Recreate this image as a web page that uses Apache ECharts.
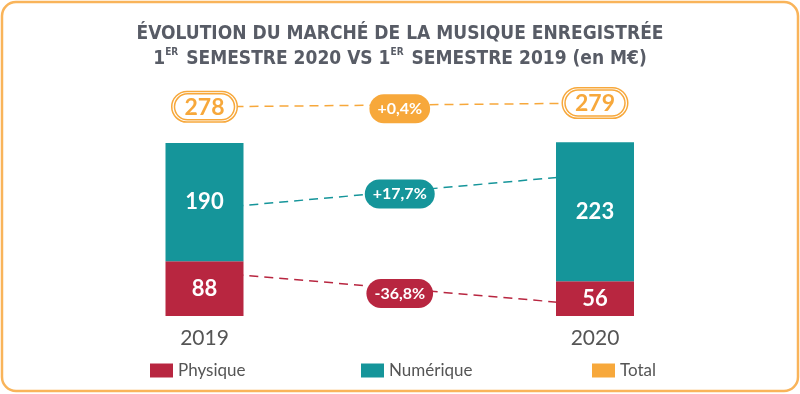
<!DOCTYPE html>
<html>
<head>
<meta charset="utf-8">
<script src="https://cdn.jsdelivr.net/npm/echarts@6/dist/echarts.min.js"></script>
<style>html,body{margin:0;padding:0;background:#fff;}#c{width:800px;height:394px;}</style>
</head>
<body>
<div id="c"></div>
<script>
// ---- data ----
const years = ['2019', '2020'];
const physique = [88, 56];
const numerique = [190, 223];
const totals = [278, 279];
const variations = ['+0,4%', '+17,7%', '-36,8%'];
// annotation connector levels (in M€ units)
const totalConnector = [336, 342];
const numeriqueConnector = [172, 228];
const physiqueConnector = [71, 17];
const variationLevels = [333, 196, 36];

const RED = '#b82640', TEAL = '#15959a', ORANGE = '#f7a83b', GRAY = '#585c66';
const TITLE_FONT = "'DejaVu Sans Condensed', 'DejaVu Sans', sans-serif";
const chart = echarts.init(document.getElementById('c'));

const pill = (color) => ({
  show: true, position: 'inside', color: '#fff', fontSize: 16, fontWeight: 'bold',
  fontFamily: 'Lato', backgroundColor: color, borderRadius: 15, padding: [7, 8, 6, 8], opacity: 1
});
const varColors = [ORANGE, TEAL, RED];

chart.setOption({
  backgroundColor: '#fff',
  animation: false,
  graphic: [{
    type: 'rect', shape: { x: 2, y: 2, width: 796, height: 389, r: 14 },
    style: { fill: 'none', stroke: '#f9b45a', lineWidth: 2.5 }, silent: true
  }],
  title: {
    left: 'center', top: 17,
    text: 'ÉVOLUTION DU MARCHÉ DE LA MUSIQUE ENREGISTRÉE\n1{sup|ER} SEMESTRE 2020 VS 1{sup|ER} SEMESTRE 2019 (en M€)',
    textStyle: {
      fontFamily: TITLE_FONT, fontWeight: 'bold', fontSize: 19, color: GRAY, lineHeight: 25,
      rich: { sup: { fontFamily: TITLE_FONT, fontWeight: 'bold', fontSize: 10, color: GRAY, verticalAlign: 'top', lineHeight: 12, padding: [0, 2, 0, 0] } }
    }
  },
  legend: [
    { left: 145, top: 357, icon: 'rect', itemWidth: 23, itemHeight: 14, itemGap: 0, selectedMode: false,
      textStyle: { fontFamily: 'Lato', fontSize: 17, color: '#555' }, data: ['Physique'] },
    { left: 356, top: 357, icon: 'rect', itemWidth: 23, itemHeight: 14, itemGap: 0, selectedMode: false,
      textStyle: { fontFamily: 'Lato', fontSize: 17, color: '#555' }, data: ['Numérique'] },
    { left: 587, top: 357, icon: 'rect', itemWidth: 23, itemHeight: 14, itemGap: 0, selectedMode: false,
      textStyle: { fontFamily: 'Lato', fontSize: 17, color: '#555' }, data: ['Total'] }
  ],
  grid: { left: 9.25, right: 9.75, top: 67, bottom: 78 },
  xAxis: [
    { type: 'category', data: years, axisLine: { show: false }, axisTick: { show: false },
      axisLabel: { color: '#555', fontFamily: 'Lato', fontSize: 21, margin: 12 } },
    { type: 'value', min: -0.5, max: 1.5, show: false }
  ],
  yAxis: { type: 'value', min: 0, max: 400, show: false },
  series: [
    { name: 'Physique', type: 'bar', stack: 's', data: physique, barWidth: 78, z: 3,
      itemStyle: { color: RED },
      label: { show: true, position: 'inside', color: '#fff', fontSize: 22, fontWeight: 'bold', fontFamily: 'Lato' } },
    { name: 'Numérique', type: 'bar', stack: 's', data: numerique, barWidth: 78, z: 3,
      itemStyle: { color: TEAL },
      label: { show: true, position: 'inside', color: '#fff', fontSize: 22, fontWeight: 'bold', fontFamily: 'Lato' } },
    { name: 'Total', type: 'line', xAxisIndex: 1, z: 1,
      data: totalConnector.map((v, i) => [i, v]),
      symbol: 'circle', symbolSize: 1,
      itemStyle: { color: ORANGE }, lineStyle: { color: ORANGE, width: 1.5, type: [9, 6] },
      label: {
        show: true, position: 'inside', formatter: p => '{v|' + totals[p.dataIndex] + '}',
        backgroundColor: '#fff', borderColor: ORANGE, borderWidth: 1.5, borderRadius: 18, padding: 2,
        rich: { v: { color: ORANGE, fontSize: 23, fontWeight: 'bold', fontFamily: 'Lato', lineHeight: 25,
          borderColor: ORANGE, borderWidth: 1.5, borderRadius: 15, padding: [2, 10, 1, 10] } }
      } },
    { name: 'numConn', type: 'line', xAxisIndex: 1, z: 1, symbol: 'none',
      data: numeriqueConnector.map((v, i) => [i, v]),
      lineStyle: { color: TEAL, width: 1.5, type: [9, 6] } },
    { name: 'phyConn', type: 'line', xAxisIndex: 1, z: 1, symbol: 'none',
      data: physiqueConnector.map((v, i) => [i, v]),
      lineStyle: { color: RED, width: 1.5, type: [9, 6] } },
    { name: 'variations', type: 'scatter', xAxisIndex: 1, z: 5, symbolSize: 1,
      itemStyle: { opacity: 1 },
      data: variationLevels.map((v, i) => ({
        value: [0.5, v], itemStyle: { color: varColors[i], opacity: 1 },
        label: Object.assign(pill(varColors[i]), { formatter: variations[i] })
      })) }
  ]
});
</script>
</body>
</html>
